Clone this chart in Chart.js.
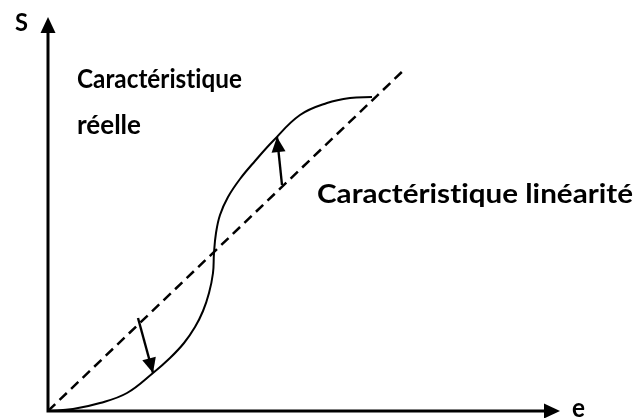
<!DOCTYPE html>
<html>
<head>
<meta charset="utf-8">
<script src="https://cdn.jsdelivr.net/npm/chart.js@4"></script>
<style>
  html, body { margin: 0; padding: 0; background: #fff; }
  canvas { display: block; }
</style>
</head>
<body>
<canvas id="chart1" width="638" height="418"></canvas>
<script>
const reelleX = [0, 25, 52, 79, 105, 122, 136, 147, 155, 161, 165, 166, 168, 172, 180, 192, 207, 225, 252, 279, 302, 324];
const reelleY = [0, 2, 8, 18, 38, 53, 68, 84, 100, 118, 138, 158, 178, 196, 214, 232, 250, 270, 296, 308, 313, 314];
// linear characteristic (dashed)
const lineaireX = [0, 358];
const lineaireY = [0, 343];
// small arrows: [tail, tip]
const arrowHautX = [234, 229];
const arrowHautY = [226, 274];
const arrowBasX = [90, 105];
const arrowBasY = [93, 38];
const axisMaxX = 512;
const axisMaxY = 394;

const toPts = (xs, ys) => xs.map((x, i) => ({ x: x, y: ys[i] }));

function arrowHead(ctx, x1, y1, x2, y2, len, half) {
    const a = Math.atan2(y2 - y1, x2 - x1);
    ctx.beginPath();
    ctx.moveTo(x2, y2);
    ctx.lineTo(x2 - len * Math.cos(a) + half * Math.sin(a), y2 - len * Math.sin(a) - half * Math.cos(a));
    ctx.lineTo(x2 - len * Math.cos(a) - half * Math.sin(a), y2 - len * Math.sin(a) + half * Math.cos(a));
    ctx.closePath();
    ctx.fill();
}

// bold text squeezed/stretched to the width seen in the picture
function label(ctx, text, x, y, size, width) {
    ctx.save();
    ctx.font = 'bold ' + size + 'px Lato, "Open Sans", sans-serif';
    if ('letterSpacing' in ctx) ctx.letterSpacing = '0.01px';
    const w = ctx.measureText(text).width;
    ctx.translate(x, y);
    if (width) ctx.scale(width / w, 1);
    ctx.fillText(text, 0, 0);
    ctx.restore();
}

const decor = {
    id: 'decor',
    afterDatasetsDraw(chart) {
        const ctx = chart.ctx;
        const sx = chart.scales.x, sy = chart.scales.y;
        const px = v => sx.getPixelForValue(v), py = v => sy.getPixelForValue(v);
        ctx.save();
        ctx.strokeStyle = '#000';
        ctx.fillStyle = '#000';
        // axes
        ctx.lineWidth = 3;
        ctx.beginPath();
        ctx.moveTo(px(0), py(axisMaxY) + 12);
        ctx.lineTo(px(0), py(0));
        ctx.lineTo(px(axisMaxX) - 12, py(0));
        ctx.stroke();
        arrowHead(ctx, px(0), py(0), px(0), py(axisMaxY), 16, 7.5);
        arrowHead(ctx, px(0), py(0), px(axisMaxX), py(0), 16, 7.5);
        // small arrow heads
        arrowHead(ctx, px(arrowHautX[0]), py(arrowHautY[0]), px(arrowHautX[1]), py(arrowHautY[1]), 15, 7);
        arrowHead(ctx, px(arrowBasX[0]), py(arrowBasY[0]), px(arrowBasX[1]), py(arrowBasY[1]), 15, 7);
        // texts
        ctx.textBaseline = 'alphabetic';
        ctx.textAlign = 'left';
        label(ctx, 'S', 15, 31, 25, 13);
        label(ctx, 'e', 572, 417, 27, 13);
        label(ctx, 'Caractéristique', 77, 88, 26, 165);
        label(ctx, 'réelle', 77, 134, 26, 64);
        label(ctx, 'Caractéristique linéarité', 317, 203, 26, 316);
        ctx.restore();
    }
};

const ctx1 = document.getElementById('chart1').getContext('2d');
const chart1 = new Chart(ctx1, {
    type: 'scatter',
    data: {
        datasets: [{
            data: toPts(reelleX, reelleY),
            showLine: true,
            borderColor: '#000',
            borderWidth: 2,
            pointRadius: 0,
            tension: 0.4
        }, {
            data: toPts(lineaireX, lineaireY),
            showLine: true,
            borderColor: '#000',
            borderWidth: 2.5,
            borderDash: [10, 6],
            pointRadius: 0
        }, {
            data: toPts(arrowHautX, arrowHautY),
            showLine: true,
            borderColor: '#000',
            borderWidth: 2.4,
            pointRadius: 0
        }, {
            data: toPts(arrowBasX, arrowBasY),
            showLine: true,
            borderColor: '#000',
            borderWidth: 2.4,
            pointRadius: 0
        }]
    },
    options: {
        responsive: false,
        animation: false,
        devicePixelRatio: 1,
        layout: { padding: { left: 48, top: 17, right: 78, bottom: 7 } },
        plugins: { legend: { display: false }, tooltip: { enabled: false } },
        scales: {
            x: { type: 'linear', display: false, min: 0, max: axisMaxX },
            y: { type: 'linear', display: false, min: 0, max: axisMaxY }
        }
    },
    plugins: [decor]
});
</script>
</body>
</html>
